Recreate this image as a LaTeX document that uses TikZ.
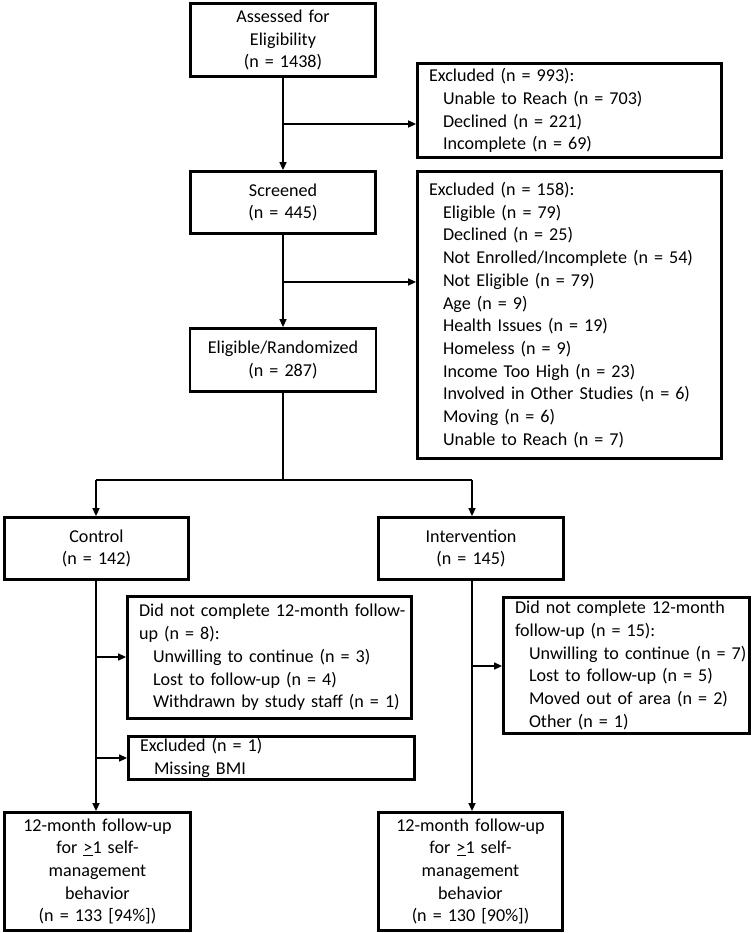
\documentclass[tikz,border=0pt]{standalone}
\usepackage{fontspec}
\setmainfont{Carlito}
\usetikzlibrary{arrows.meta}
\newcommand{\ind}[1]{\mbox{\hspace*{14pt}#1}}
\newcommand{\oneline}[1]{\mbox{#1}}
\begin{document}
\begin{tikzpicture}[x=1pt,y=-1pt,
  boxc/.style={draw, line width=2.8pt, inner xsep=5pt, inner ysep=0pt, align=center,
    font=\fontsize{18.1}{22.7}\selectfont, text=black},
  boxl/.style={draw, line width=2.8pt, inner xsep=11.5pt, inner ysep=0pt, align=left,
    font=\fontsize{18.1}{22.7}\selectfont, text=black},
  conn/.style={line width=1.5pt},
  arr/.style={conn, -{Triangle[length=8pt,width=7pt]}}]
\useasboundingbox (0,0) rectangle (753,933);
\fill[white] (0,0) rectangle (753,933);

\node[boxc, minimum width=185, minimum height=73, text width=175] (assess) at (283,40)
  {Assessed for\\Eligibility\\(n = 1438)};
\node[boxc, minimum width=185, minimum height=62, text width=175] (screen) at (283,202.5)
  {Screened\\(n = 445)};
\node[boxc, minimum width=186, minimum height=63, text width=176] (elig) at (283,360)
  {Eligible/Randomized\\(n = 287)};
\node[boxl, minimum width=304, minimum height=94, text width=281] (exA) at (569.5,110.5)
  {\oneline{Excluded (n = 993):}\\\ind{Unable to Reach (n = 703)}\\\ind{Declined (n = 221)}\\\ind{Incomplete (n = 69)}};
\node[boxl, minimum width=304, minimum height=287, text width=281] (exB) at (569.5,315)
  {\oneline{Excluded (n = 158):}\\\ind{Eligible (n = 79)}\\\ind{Declined (n = 25)}\\\ind{Not Enrolled/Incomplete (n = 54)}\\\ind{Not Eligible (n = 79)}\\\ind{Age (n = 9)}\\\ind{Health Issues (n = 19)}\\\ind{Homeless (n = 9)}\\\ind{Income Too High (n = 23)}\\\ind{Involved in Other Studies (n = 6)}\\\ind{Moving (n = 6)}\\\ind{Unable to Reach (n = 7)}};
\node[boxc, minimum width=184, minimum height=62, text width=174] (ctrl) at (96.5,548.5)
  {Control\\(n = 142)};
\node[boxc, minimum width=185, minimum height=62, text width=175] (intv) at (471,548.5)
  {Intervention\\(n = 145)};
\node[boxl, minimum width=284, minimum height=122, text width=261] (dncA) at (269.5,657.5)
  {\oneline{Did not complete 12-month follow-}\\\oneline{up (n = 8):}\\\ind{Unwilling to continue (n = 3)}\\\ind{Lost to follow-up (n = 4)}\\\ind{Withdrawn by study staff (n = 1)}};
\node[boxl, minimum width=246, minimum height=136, text width=223] (dncB) at (626.5,665.5)
  {\oneline{Did not complete 12-month}\\\oneline{follow-up (n = 15):}\\\ind{Unwilling to continue (n = 7)}\\\ind{Lost to follow-up (n = 5)}\\\ind{Moved out of area (n = 2)}\\\ind{Other (n = 1)}};
\node[boxl, minimum width=286, minimum height=43, text width=263] (exC) at (271.5,758)
  {\oneline{Excluded (n = 1)}\\\ind{Missing BMI}};
\node[boxc, minimum width=186, minimum height=118, text width=176] (fuA) at (97.5,871.5)
  {12-month follow-up\\for \underline{>}1 self-\\management\\behavior\\(n = 133 [94\%])};
\node[boxc, minimum width=184, minimum height=118, text width=174] (fuB) at (470.5,871.5)
  {12-month follow-up\\for \underline{>}1 self-\\management\\behavior\\(n = 130 [90\%])};

\coordinate (b1) at (283,124);
\coordinate (b2) at (283,282);
\coordinate (split) at (283,480);
\coordinate (lc) at (96,480);
\coordinate (rc) at (472,480);
\coordinate (c1) at (96,657);
\coordinate (c2) at (96,758);
\coordinate (i1) at (472,666);

\draw[arr] (assess.south) -- (screen.north);
\draw[arr] (b1) -- (b1 -| exA.west);
\draw[arr] (screen.south) -- (elig.north);
\draw[arr] (b2) -- (b2 -| exB.west);
\draw[conn] (elig.south) -- (split);
\draw[conn] (lc) -- (rc);
\draw[arr] (lc) -- (lc |- ctrl.north);
\draw[arr] (rc) -- (rc |- intv.north);
\draw[arr] (lc |- ctrl.south) -- (lc |- fuA.north);
\draw[arr] (c1) -- (c1 -| dncA.west);
\draw[arr] (c2) -- (c2 -| exC.west);
\draw[arr] (rc |- intv.south) -- (rc |- fuB.north);
\draw[arr] (i1) -- (i1 -| dncB.west);
\end{tikzpicture}
\end{document}
